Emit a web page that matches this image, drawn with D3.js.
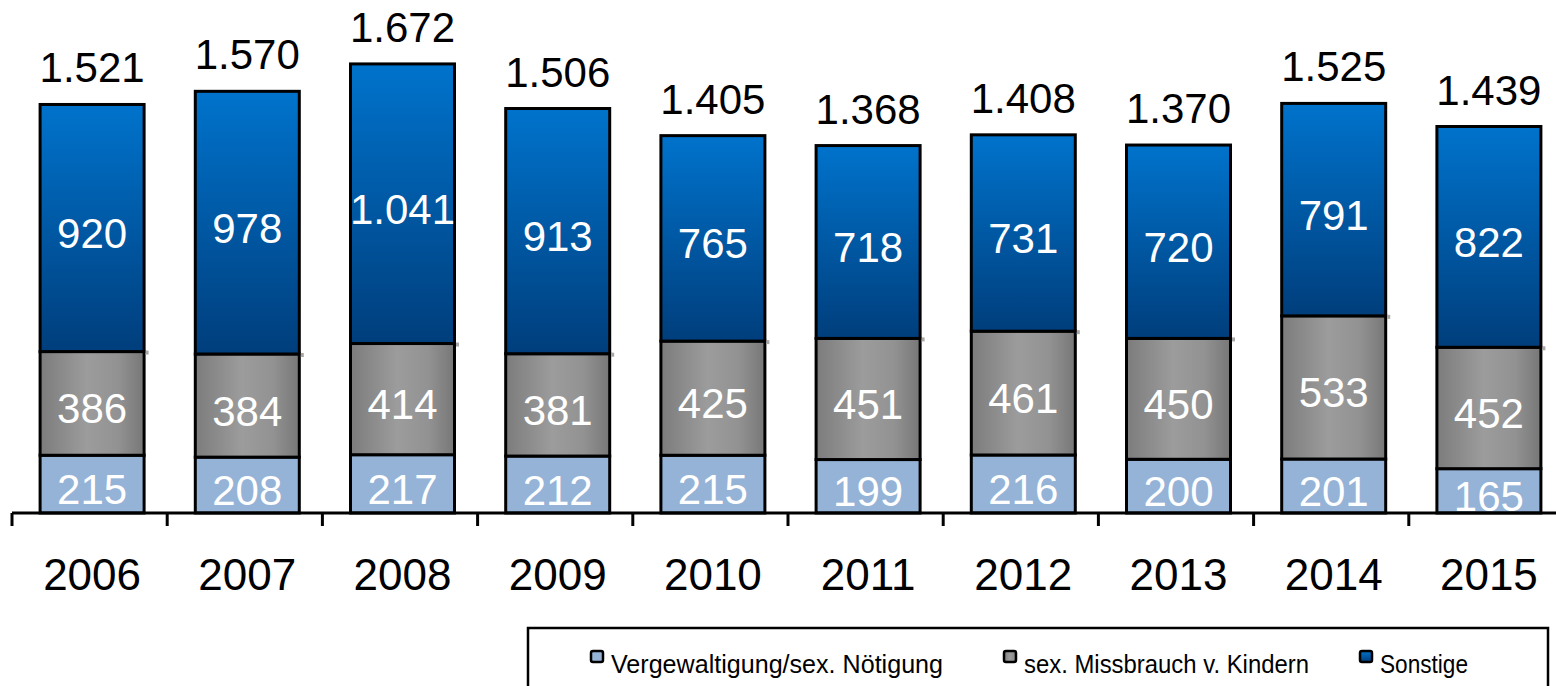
<!DOCTYPE html>
<html>
<head>
<meta charset="utf-8">
<script src="https://cdn.jsdelivr.net/npm/d3@7"></script>
<style>
  body { margin: 0; background: #fff; }
  text { font-family: "Liberation Sans", Arial, sans-serif; }
</style>
</head>
<body>
<script>
const years = ["2006", "2007", "2008", "2009", "2010", "2011", "2012", "2013", "2014", "2015"];
const vergewaltigung = [215, 208, 217, 212, 215, 199, 216, 200, 201, 165];
const missbrauch = [386, 384, 414, 381, 425, 451, 461, 450, 533, 452];
const sonstige = [920, 978, 1041, 913, 765, 718, 731, 720, 791, 822];
const totalLabels = ["1.521", "1.570", "1.672", "1.506", "1.405", "1.368", "1.408", "1.370", "1.525", "1.439"];
const seriesNames = ["Vergewaltigung/sex. Nötigung", "sex. Missbrauch v. Kindern", "Sonstige"];

const W = 1556, H = 686,
      baseY = 513;

const svg = d3.select("body")
  .append("svg")
  .attr("width", W)
  .attr("height", H);

const defs = svg.append("defs");
const blue = defs.append("linearGradient")
  .attr("id", "gBlue")
  .attr("x1", 0).attr("y1", 0).attr("x2", 0).attr("y2", 1);
blue.append("stop").attr("offset", "0%").attr("stop-color", "#0073cc");
blue.append("stop").attr("offset", "100%").attr("stop-color", "#003e7c");

const gray = defs.append("linearGradient")
  .attr("id", "gGray")
  .attr("x1", 0).attr("y1", 0).attr("x2", 1).attr("y2", 0);
gray.append("stop").attr("offset", "0%").attr("stop-color", "#7c7c7c");
gray.append("stop").attr("offset", "45%").attr("stop-color", "#9c9c9c");
gray.append("stop").attr("offset", "75%").attr("stop-color", "#929292");
gray.append("stop").attr("offset", "100%").attr("stop-color", "#777777");

const fills = ["#95b3d7", "url(#gGray)", "url(#gBlue)"];

const data = years.map((y, i) => ({
  year: y,
  v: vergewaltigung[i],
  m: missbrauch[i],
  s: sonstige[i],
  total: totalLabels[i]
}));

const stack = d3.stack().keys(["v", "m", "s"]);
const layers = stack(data);

const x = d3.scaleBand()
  .domain(years)
  .range([12, 1564]);

const y = d3.scaleLinear()
  .domain([0, 1910])
  .range([baseY, 0]);

const barW = 104;
const barX = (d) => x(d) + x.bandwidth() / 2 - barW / 2 + 2.5;
const fmt = (v) => v >= 1000 ? d3.format(",")(v).replace(",", ".") : String(v);

// bars
layers.forEach((layer, li) => {
  svg.append("g")
    .selectAll("rect")
    .data(layer)
    .enter()
    .append("rect")
    .attr("x", (d) => barX(d.data.year))
    .attr("y", (d) => y(d[1]))
    .attr("width", barW)
    .attr("height", (d) => y(d[0]) - y(d[1]))
    .style("fill", fills[li])
    .style("stroke", "#000")
    .style("stroke-width", 3);
});

// little gray shadow marks at the top of the gray segment
svg.append("g")
  .selectAll("rect")
  .data(layers[1])
  .enter()
  .append("rect")
  .attr("x", (d) => barX(d.data.year) + barW + 1.5)
  .attr("y", (d) => y(d[1]) - 1)
  .attr("width", 3)
  .attr("height", 4)
  .style("fill", "#a8a8a8");

// segment labels
layers.forEach((layer) => {
  svg.append("g")
    .selectAll("text")
    .data(layer)
    .enter()
    .append("text")
    .attr("x", (d) => barX(d.data.year) + barW / 2)
    .attr("y", (d) => (y(d[0]) + y(d[1])) / 2 + 20)
    .attr("text-anchor", "middle")
    .style("font-size", "42px")
    .style("fill", "#fff")
    .text((d) => fmt(d[1] - d[0]));
});

// totals
svg.append("g")
  .selectAll("text")
  .data(layers[2])
  .enter()
  .append("text")
  .attr("x", (d) => barX(d.data.year) + barW / 2)
  .attr("y", (d) => y(d[1]) - 22)
  .attr("text-anchor", "middle")
  .style("font-size", "42px")
  .style("fill", "#000")
  .text((d) => d.data.total);

// x axis
const axis = svg.append("g");
axis.append("line")
  .attr("x1", 12).attr("x2", W)
  .attr("y1", baseY).attr("y2", baseY)
  .style("stroke", "#000").style("stroke-width", 3);
axis.selectAll(".tick")
  .data(years)
  .enter()
  .append("line")
  .attr("x1", (d) => x(d)).attr("x2", (d) => x(d))
  .attr("y1", baseY).attr("y2", baseY + 13)
  .style("stroke", "#000").style("stroke-width", 3);
axis.selectAll("text")
  .data(years)
  .enter()
  .append("text")
  .attr("x", (d) => barX(d) + barW / 2)
  .attr("y", 590)
  .attr("text-anchor", "middle")
  .style("font-size", "44px")
  .style("fill", "#000")
  .text((d) => d);

// legend
const legend = svg.append("g");
legend.append("rect")
  .attr("x", 528).attr("y", 628)
  .attr("width", 1020).attr("height", 80)
  .style("fill", "#fff")
  .style("stroke", "#000")
  .style("stroke-width", 2.5);

const legX = [591, 1004, 1360];
const legLen = [332, 285, 88];
const items = legend.selectAll(".legend")
  .data(seriesNames)
  .enter().append("g")
  .attr("class", "legend")
  .attr("transform", (d, i) => "translate(" + legX[i] + ",651)");

items.append("rect")
  .attr("width", 12)
  .attr("height", 11)
  .attr("rx", 2)
  .style("fill", (d, i) => fills[i])
  .style("stroke", "#000")
  .style("stroke-width", 2.5);

items.append("text")
  .attr("x", 20)
  .attr("y", 22)
  .attr("textLength", (d, i) => legLen[i])
  .attr("lengthAdjust", "spacingAndGlyphs")
  .style("font-size", "25px")
  .style("fill", "#000")
  .text((d) => d);
</script>
</body>
</html>
